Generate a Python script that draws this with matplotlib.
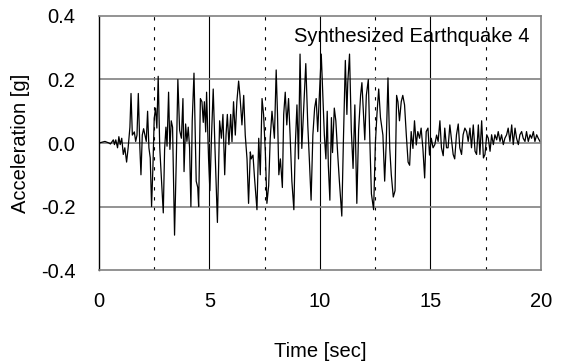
import matplotlib.pyplot as plt

plt.rcParams['font.family'] = ['Liberation Sans', 'DejaVu Sans']

# Time history (sec, g)
time = [
    0.00, 0.27, 0.45, 0.52, 0.57, 0.65, 0.70, 0.76, 0.84, 0.90, 0.96, 1.03,
    1.10, 1.17, 1.25, 1.32, 1.40, 1.45, 1.51, 1.60, 1.66, 1.72, 1.78, 1.85,
    1.90, 1.96, 2.02, 2.08, 2.14, 2.20, 2.26, 2.32, 2.38, 2.44, 2.50, 2.56,
    2.62, 2.68, 2.75, 2.83, 2.91, 2.97, 3.03, 3.08, 3.15, 3.21, 3.27, 3.33,
    3.42, 3.50, 3.57, 3.65, 3.73, 3.80, 3.85, 3.92, 3.98, 4.04, 4.10, 4.16,
    4.22, 4.30, 4.36, 4.40, 4.47, 4.51, 4.59, 4.66, 4.72, 4.77, 4.83, 4.87,
    4.96, 5.02, 5.09, 5.17, 5.25, 5.36, 5.46, 5.54, 5.61, 5.69, 5.75, 5.81,
    5.88, 5.96, 6.02, 6.09, 6.17, 6.24, 6.32, 6.38, 6.47, 6.55, 6.62, 6.70,
    6.77, 6.85, 6.89, 6.97, 7.04, 7.15, 7.23, 7.30, 7.38, 7.45, 7.53, 7.60,
    7.68, 7.75, 7.83, 7.94, 8.02, 8.08, 8.14, 8.21, 8.30, 8.36, 8.43, 8.50,
    8.58, 8.65, 8.73, 8.82, 8.88, 8.96, 9.03, 9.10, 9.18, 9.25, 9.36, 9.45,
    9.52, 9.60, 9.68, 9.76, 9.83, 9.90, 9.98, 10.06, 10.12, 10.20, 10.27,
    10.33, 10.38, 10.45, 10.52, 10.57, 10.65, 10.72, 10.80, 10.88, 10.99,
    11.06, 11.15, 11.22, 11.26, 11.34, 11.42, 11.50, 11.58, 11.67, 11.75,
    11.84, 11.90, 11.97, 12.03, 12.10, 12.19, 12.27, 12.33, 12.43, 12.51,
    12.58, 12.66, 12.74, 12.85, 12.93, 13.00, 13.08, 13.16, 13.23, 13.32,
    13.40, 13.47, 13.53, 13.60, 13.68, 13.75, 13.83, 13.91, 13.99, 14.06,
    14.13, 14.21, 14.28, 14.36, 14.43, 14.51, 14.58, 14.66, 14.74, 14.81,
    14.89, 14.96, 15.04, 15.12, 15.20, 15.28, 15.35, 15.43, 15.50, 15.58,
    15.65, 15.73, 15.80, 15.88, 15.95, 16.03, 16.10, 16.18, 16.26, 16.33,
    16.41, 16.48, 16.56, 16.64, 16.71, 16.79, 16.86, 16.94, 17.02, 17.09,
    17.17, 17.24, 17.32, 17.40, 17.47, 17.55, 17.62, 17.70, 17.77, 17.85,
    17.92, 18.00, 18.07, 18.15, 18.22, 18.30, 18.37, 18.45, 18.52, 18.60,
    18.68, 18.75, 18.83, 18.90, 18.98, 19.05, 19.13, 19.20, 19.28, 19.35,
    19.43, 19.51, 19.58, 19.66, 19.73, 19.81, 19.88, 19.96,
]
accel = [
    0.000, 0.005, 0.000, -0.003, 0.002, 0.010, -0.005, 0.010, -0.015, 0.020, -0.005, 0.015,
    -0.036, -0.015, -0.060, -0.015, 0.050, 0.156, 0.025, 0.035, 0.005, 0.025, 0.156, -0.015,
    -0.100, 0.025, 0.045, 0.025, 0.005, 0.100, -0.015, -0.047, -0.200, -0.078, 0.078, 0.110,
    0.047, 0.210, -0.015, -0.120, -0.220, -0.020, 0.050, -0.010, 0.160, -0.020, 0.070, 0.050,
    -0.290, -0.050, 0.200, 0.040, 0.015, 0.140, -0.090, 0.060, 0.005, 0.050, -0.015, -0.200,
    0.070, 0.220, 0.025, -0.120, -0.140, -0.200, 0.140, 0.130, 0.065, 0.130, 0.035, 0.160,
    -0.050, -0.150, 0.015, 0.170, -0.017, -0.250, 0.070, 0.015, 0.090, -0.100, 0.025, 0.090,
    -0.005, 0.090, 0.004, 0.130, 0.025, 0.130, 0.195, 0.150, 0.057, 0.150, 0.025, -0.050,
    -0.190, -0.028, -0.050, -0.038, -0.110, -0.210, 0.015, -0.100, 0.140, 0.089, -0.030, -0.190,
    -0.134, 0.015, 0.100, 0.015, 0.230, 0.090, -0.100, -0.050, -0.140, 0.090, 0.160, 0.057,
    0.140, 0.025, -0.120, -0.210, -0.017, 0.120, -0.050, 0.280, -0.017, 0.089, 0.250, 0.057,
    -0.050, -0.180, 0.025, 0.110, 0.140, 0.036, 0.160, 0.280, 0.170, 0.025, -0.050,
    0.100, -0.070, -0.180, 0.080, -0.030, 0.110, 0.070, -0.030, -0.120, -0.230,
    0.000, 0.260, 0.090, 0.190, 0.280, 0.040, -0.080, 0.120, -0.190, 0.040,
    0.150, 0.190, 0.090, 0.010, 0.150, 0.200, -0.020, -0.160, -0.210, 0.000,
    0.090, 0.170, 0.080, 0.025, -0.120, 0.000, 0.205, -0.017, -0.100, -0.170,
    -0.150, 0.150, 0.130, 0.070, 0.130, 0.150, 0.120, 0.025, -0.060, -0.070,
    0.036, -0.017, 0.070, -0.006, 0.036, 0.015, 0.047, -0.017, -0.110, 0.036,
    0.047, -0.038, 0.015, -0.015, -0.005, 0.025, 0.005, 0.070, -0.015, -0.040,
    0.047, -0.015, -0.015, 0.057, 0.015, -0.036, -0.050, 0.026, 0.060, -0.015,
    -0.036, 0.026, 0.047, 0.036, 0.005, 0.047, -0.015, 0.057, -0.026, -0.036,
    0.057, -0.036, 0.070, -0.047, -0.036, 0.026, 0.015, -0.026, 0.026, -0.005,
    0.026, 0.010, 0.036, 0.005, 0.026, -0.005, 0.015, 0.026, 0.047, 0.005,
    0.057, -0.005, 0.047, 0.015, -0.005, 0.026, 0.036, 0.015, 0.005, 0.036,
    0.005, 0.026, 0.015, 0.036, 0.005, 0.026, 0.015, 0.005,
]

x_ticks = [0, 5, 10, 15, 20]
y_ticks = [-0.4, -0.2, 0.0, 0.2, 0.4]

fig = plt.figure(figsize=(5.64, 3.63), dpi=100)
ax = fig.add_axes([0.1755, 0.256, 0.7835, 0.700])

# grid: solid majors, dashed minors on x
for t in [5, 10, 15]:
    ax.axvline(t, color='black', lw=0.8, zorder=1)
for t in [2.5, 7.5, 12.5, 17.5]:
    ax.axvline(t, color='black', lw=0.8, ls=(0, (3, 6)), zorder=1)
for v in [-0.2, 0.0, 0.2]:
    ax.axhline(v, color='#808080', lw=1.2, zorder=1)

ax.plot(time, accel, color='black', lw=0.9, zorder=2)

ax.set_xlim(0, 20)
ax.set_ylim(-0.4, 0.4)
ax.set_xticks(x_ticks)
ax.set_yticks(y_ticks)
ax.set_xticklabels([str(t) for t in x_ticks])
ax.set_yticklabels([f"{v:.1f}" for v in y_ticks])
ax.tick_params(length=0, labelsize=14.5)
ax.tick_params(axis='y', pad=17)
ax.tick_params(axis='x', pad=16)

for side in ['top', 'right', 'bottom']:
    ax.spines[side].set_color('#808080')
    ax.spines[side].set_linewidth(1.2)
ax.spines['left'].set_color('black')
ax.spines['left'].set_linewidth(1.0)

ax.set_xlabel("Time [sec]", fontsize=14.5, labelpad=22)
ax.set_ylabel("Acceleration [g]", fontsize=14.5, labelpad=8)
ax.text(0.975, 0.898, "Synthesized Earthquake 4", transform=ax.transAxes,
        ha='right', va='baseline', fontsize=14.5)

fig.savefig("out.png", dpi=100)
